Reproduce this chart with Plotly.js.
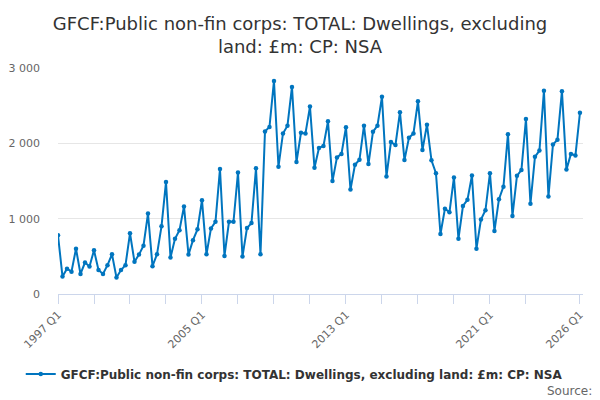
<!DOCTYPE html>
<html>
<head>
<meta charset="utf-8">
<script src="https://cdn.plot.ly/plotly-3.0.1.min.js"></script>
<style>
  html, body { margin: 0; padding: 0; background: #fff; }
  #chart { width: 600px; height: 400px; }
</style>
</head>
<body>
<div id="chart"></div>
<script>
"use strict";

// quarterly values, 1997 Q1 .. 2026 Q1 (£m)
const startYear = 1997;
const values = [
  780, 231, 336, 297,
  601, 266, 418, 366,
  580, 318, 266, 383,
  527, 218, 318, 383,
  806, 427, 523, 641,
  1068, 370, 527, 898,
  1486, 484, 732, 846,
  1163, 523, 715, 858,
  1246, 527, 871, 958,
  1660, 506, 958, 958,
  1612, 497, 876, 941,
  1669, 527, 2157, 2218,
  2828, 1690, 2131, 2235,
  2749, 1752, 2140, 2131,
  2488, 1677, 1939, 1965,
  2292, 1499, 1813, 1860,
  2213, 1386, 1716, 1782,
  2235, 1725, 2153, 2235,
  2618, 1560, 2017, 1978,
  2414, 1778, 2074, 2131,
  2558, 1912, 2248, 1774,
  1604, 797, 1133, 1085,
  1547, 732, 1168, 1250,
  1573, 601, 989, 1111,
  1604, 837, 1259, 1425,
  2122, 1037, 1569, 1647,
  2323, 1198, 1821, 1904,
  2697, 1294, 1983, 2048,
  2693, 1651, 1860, 1839,
  2405
];

const tickYears = [1997, 1999, 2001, 2003, 2005, 2007, 2009, 2011, 2013, 2015, 2017, 2019, 2021, 2023, 2026];
const labelledYears = [1997, 2005, 2013, 2021, 2026];
const yTicks = [0, 1000, 2000, 3000];
const yTickText = ['0', '1 000', '2 000', '3 000'];

const seriesName = 'GFCF:Public non-fin corps: TOTAL: Dwellings, excluding land: £m: CP: NSA';
const chartTitle = 'GFCF:Public non-fin corps: TOTAL: Dwellings, excluding<br>land: £m: CP: NSA';

let x = [];
let labels = [];
values.forEach((v, i) => {
  let year = startYear + Math.floor(i / 4);
  let q = (i % 4) + 1;
  x.push(year + (q - 1) / 4);
  labels.push(year + ' Q' + q);
});

let tickText = tickYears.map(y => labelledYears.indexOf(y) >= 0 ? y + ' Q1' : '');

const font = 'DejaVu Sans, Verdana, sans-serif';

let trace = {
  x: x,
  y: values,
  text: labels,
  type: 'scatter',
  mode: 'lines+markers',
  name: seriesName,
  line: { color: '#0075bf', width: 2 },
  marker: { color: '#0075bf', size: 4.5 },
  hoverinfo: 'text+y'
};

let layout = {
  width: 600,
  height: 400,
  margin: { l: 58, r: 17, t: 68, b: 103 },
  paper_bgcolor: '#ffffff',
  plot_bgcolor: '#ffffff',
  font: { family: font, color: '#333333' },
  title: {
    text: chartTitle,
    font: { family: font, size: 18, color: '#333333' },
    x: 0.5,
    xanchor: 'center',
    yref: 'container',
    y: 0.925,
    yanchor: 'middle'
  },
  xaxis: {
    range: [1997, 2026.17],
    tickmode: 'array',
    tickvals: tickYears,
    ticktext: tickText,
    tickangle: -45,
    ticks: 'outside',
    ticklen: 9,
    tickcolor: '#ccd6eb',
    tickwidth: 1,
    showgrid: false,
    showline: true,
    linecolor: '#ccd6eb',
    linewidth: 1,
    zeroline: false,
    tickfont: { family: font, size: 11, color: '#666666' }
  },
  yaxis: {
    range: [0, 3000],
    tickmode: 'array',
    tickvals: yTicks,
    ticktext: yTickText,
    showgrid: true,
    gridcolor: '#e6e6e6',
    gridwidth: 1,
    zeroline: false,
    showline: false,
    ticks: '',
    ticklabelstandoff: 17,
    tickfont: { family: font, size: 11, color: '#666666' }
  },
  showlegend: true,
  legend: {
    orientation: 'h',
    x: 0.45,
    xanchor: 'center',
    y: -0.29,
    yanchor: 'top',
    font: { family: font, size: 12, color: '#333333', weight: 'bold' }
  },
  annotations: [{
    text: 'Source:',
    xref: 'paper',
    yref: 'paper',
    x: 1.02,
    y: -0.43,
    xanchor: 'right',
    yanchor: 'middle',
    showarrow: false,
    font: { family: font, size: 12, color: '#666666' }
  }]
};

Plotly.newPlot('chart', [trace], layout, { displayModeBar: false, staticPlot: true });
</script>
</body>
</html>
